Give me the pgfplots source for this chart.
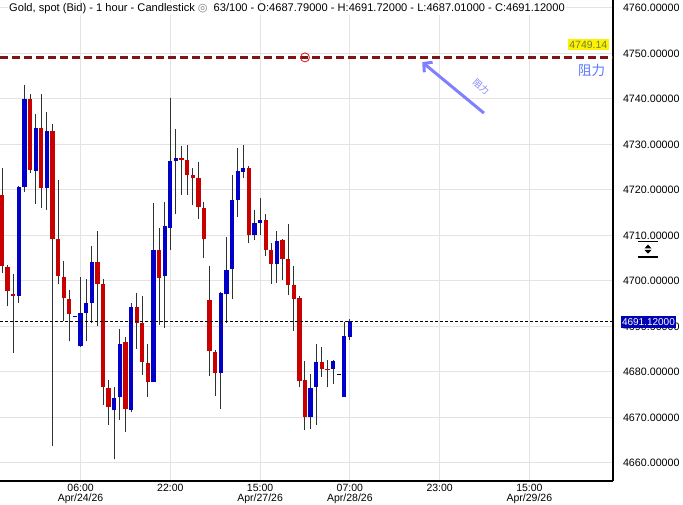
\documentclass[border=0pt]{standalone}
\usepackage{fontspec}
\setmainfont{Liberation Sans}
\newfontfamily\cjk{Noto Sans CJK SC}
\newfontfamily\sym{DejaVu Sans}
\usepackage{pgfplots}
\usepackage{pgfplotstable}
\pgfplotsset{compat=1.18}
\usetikzlibrary{arrows.meta}

\definecolor{upc}{RGB}{0,0,200}
\definecolor{dnc}{RGB}{200,0,0}
\definecolor{wick}{RGB}{45,50,50}
\definecolor{resist}{RGB}{128,20,20}
\definecolor{arrowc}{RGB}{128,128,255}
\definecolor{zuli}{RGB}{90,120,255}
\definecolor{hltxt}{RGB}{110,130,50}
\definecolor{pricebox}{RGB}{0,0,180}

% idx open high low close
\pgfplotstableread{
idx open high low close
3  4696.8 4720.9 4695.2 4720.7
4  4720.7 4743.1 4719.6 4740.0
6  4724.2 4736.7 4716.9 4733.7
8  4720.5 4737.1 4715.6 4733.0
13 4692.1 4692.4 4692.1 4692.4
14 4685.7 4700.9 4685.6 4693.0
15 4693.0 4700.4 4686.8 4695.2
16 4695.2 4707.7 4690.7 4704.2
20 4671.7 4676.8 4660.8 4674.2
21 4674.6 4689.4 4669.5 4686.1
23 4671.6 4695.1 4671.1 4694.3
27 4677.7 4717.1 4677.7 4706.8
29 4701.0 4717.4 4689.7 4712.1
30 4711.7 4740.3 4706.8 4726.4
31 4726.4 4733.4 4714.7 4727.0
39 4679.8 4697.6 4671.9 4697.4
40 4697.2 4709.7 4690.8 4702.4
41 4702.7 4723.3 4696.1 4717.8
42 4717.9 4729.2 4714.1 4724.2
43 4724.0 4729.9 4722.7 4724.8
45 4710.0 4715.6 4709.1 4712.7
46 4712.8 4718.2 4710.0 4713.4
49 4703.8 4711.0 4699.6 4708.8
55 4670.0 4679.6 4667.4 4676.5
56 4676.8 4686.2 4668.3 4682.2
59 4680.7 4682.6 4677.4 4682.4
61 4674.6 4691.0 4674.6 4687.9
62 4687.79 4691.72 4687.01 4691.12
}\upcandles

\pgfplotstableread{
idx open high low close
0  4718.9 4724.8 4701.7 4703.4
1  4703.1 4703.5 4694.5 4697.7
2  4697.1 4701.5 4684.2 4696.6
5  4740.0 4741.1 4723.8 4724.4
7  4733.7 4741.1 4716.1 4720.5
9  4733.0 4734.5 4663.8 4709.2
10 4709.2 4722.2 4699.3 4701.2
11 4700.9 4704.4 4691.3 4696.3
12 4696.0 4698.0 4686.7 4692.8
17 4704.2 4711.0 4690.1 4699.4
18 4699.3 4700.4 4672.8 4676.6
19 4676.5 4678.2 4668.4 4672.2
22 4686.5 4687.7 4666.7 4671.9
24 4694.3 4697.4 4685.1 4690.8
25 4690.8 4696.7 4679.4 4682.1
26 4682.0 4686.2 4674.6 4677.8
28 4706.8 4711.6 4690.4 4700.7
32 4727.0 4729.7 4718.9 4726.6
33 4726.6 4729.9 4718.9 4723.3
34 4723.3 4724.9 4716.7 4722.6
35 4722.6 4726.2 4713.6 4716.3
36 4716.0 4717.4 4705.1 4709.2
37 4695.8 4703.3 4679.2 4684.6
38 4684.4 4684.8 4674.8 4679.8
44 4724.8 4725.3 4708.4 4710.0
47 4713.4 4714.7 4705.6 4706.9
48 4706.8 4708.4 4699.4 4703.8
50 4709.0 4709.3 4700.3 4704.9
51 4704.8 4712.5 4697.0 4699.2
52 4699.1 4703.3 4689.1 4696.1
53 4696.3 4696.7 4676.6 4678.1
54 4678.2 4682.4 4667.2 4670.0
57 4682.2 4685.5 4679.0 4680.7
58 4680.7 4682.6 4676.8 4680.5
}\downcandles

\pgfplotstableread{
idx open high low close
60 4679.45 4679.6 4679.45 4679.6
}\dojicandles

\pgfplotsset{
  candle/.style 2 args={only marks, mark=*, mark size=0pt, mark options={draw=none, fill=none},
    error bars/.cd, y dir=plus, y explicit, error mark=none,
    error bar style={line width=#1, color=#2}},
}

\begin{document}
\begin{tikzpicture}
\begin{axis}[
    scale only axis,
    width=613pt, height=481pt,
    xmin=-0.36, xmax=108.9,
    ymin=4656.04, ymax=4761.76,
    axis x line*=bottom, axis y line*=right,
    axis line style={line width=1.2pt, black},
    major tick length=0pt,
    grid=major,
    major grid style={line width=1pt, black!11},
    xtick={14,30,46,62,78,94},
    xticklabels={{06:00\\Apr/24/26},{22:00},{15:00\\Apr/27/26},{07:00\\Apr/28/26},{23:00},{15:00\\Apr/29/26}},
    xticklabel style={align=center, font=\fontsize{10.5}{10}\selectfont},
    ytick={4660,4670,...,4760},
    scaled y ticks=false,
    /pgf/number format/assume math mode=true,
    yticklabel style={font=\fontsize{10.7}{12}\selectfont, xshift=6.5pt,
        /pgf/number format/.cd, fixed, fixed zerofill, precision=5, 1000 sep={}},
]
% wicks
\addplot[candle={1pt}{wick}]
    table[x=idx, y=low, y error plus expr=\thisrow{high}-\thisrow{low}] {\upcandles};
\addplot[candle={1pt}{wick}]
    table[x=idx, y=low, y error plus expr=\thisrow{high}-\thisrow{low}] {\downcandles};
% bodies
\addplot[candle={4.3pt}{upc}]
    table[x=idx, y=open, y error plus expr=\thisrow{close}-\thisrow{open}] {\upcandles};
\addplot[candle={4.3pt}{dnc}]
    table[x=idx, y=close, y error plus expr=\thisrow{open}-\thisrow{close}] {\downcandles};
\addplot[candle={4.3pt}{black}]
    table[x=idx, y=open, y error plus expr=\thisrow{close}-\thisrow{open}] {\dojicandles};

% last price and resistance lines
\addplot[black, line width=0.9pt, dash pattern=on 3pt off 2pt] coordinates {(-0.36,4691.12) (108.9,4691.12)};
\addplot[resist, line width=2.5pt, dash pattern=on 8pt off 4pt] coordinates {(-0.36,4749.14) (108.9,4749.14)};
\addplot[only marks, mark=o, mark size=4.5pt, mark options={line width=0.9pt, color={rgb,255:red,220;green,40;blue,40}}] coordinates {(54,4749.14)};

\draw[arrowc, line width=3pt, -{Straight Barb[length=6pt,width=13pt]}] (axis cs:85.9,4736.9) -- (axis cs:74.9,4748.1);
\node[rotate=-40, text=arrowc, inner sep=0pt, font=\cjk\fontsize{9}{9}\selectfont] at (axis cs:85.4,4742.6) {阻力};
\node[fill=yellow, inner sep=1.8pt, text=hltxt, font=\fontsize{10.5}{12}\selectfont] at (axis cs:104.5,4751.9) {4749.14};
\node[text=zuli, font=\cjk\fontsize{13.5}{14}\selectfont] at (axis cs:105.1,4746.2) {阻力};

\node[anchor=west, fill=white, inner sep=1pt, font=\fontsize{11.1}{12}\selectfont] at ([xshift=8pt,yshift=-9pt]rel axis cs:0,1)
  {Gold, spot (Bid) - 1 hour - Candlestick\hspace{3pt}{\sym\color{black!50}◎}\hspace{3pt} 63/100 - O:4687.79000 - H:4691.72000 - L:4687.01000 - C:4691.12000};

\coordinate (bl) at (rel axis cs:0,0);
\coordinate (tr) at (rel axis cs:1,1);
\coordinate (pr) at (axis cs:108.9,4691.12);
\coordinate (ic) at (axis cs:108.9,4707.0);
\end{axis}
\node[fill=pricebox, text=white, inner xsep=1.3pt, inner ysep=2pt, anchor=west, font=\fontsize{10}{10}\selectfont] at ([xshift=7.5pt,yshift=-0.6pt]pr) {4691.12000};
\begin{scope}[shift={(ic)}, xshift=35pt]
  \draw[line width=1.4pt] (-10pt,7.7pt) -- (10pt,7.7pt);
  \draw[line width=1.4pt] (-10pt,-7.7pt) -- (10pt,-7.7pt);
  \fill (-3.5pt,0.8pt) -- (3.5pt,0.8pt) -- (0pt,4.5pt) -- cycle;
  \fill (-3.5pt,-0.8pt) -- (3.5pt,-0.8pt) -- (0pt,-4.5pt) -- cycle;
\end{scope}
\pgfresetboundingbox
\useasboundingbox ([yshift=-24pt]bl) rectangle ([xshift=70pt]tr);
\end{tikzpicture}
\end{document}
